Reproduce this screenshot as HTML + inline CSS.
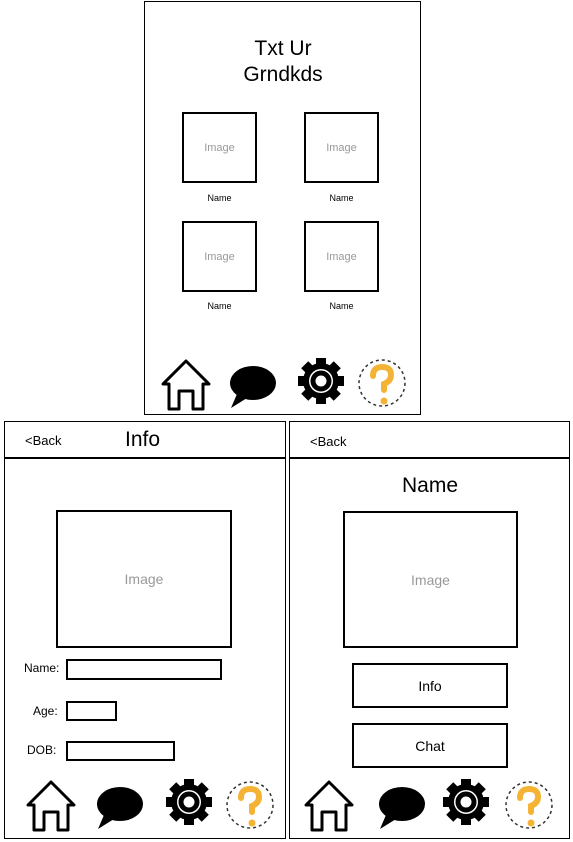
<!DOCTYPE html>
<html><head><style>
body{margin:0;width:573px;height:842px;background:#fff;position:relative;font-family:"Liberation Sans",sans-serif;overflow:hidden}
.b{position:absolute;border:2px solid #000;box-sizing:border-box}
.t{position:absolute;white-space:nowrap}
.img{display:flex;align-items:center;justify-content:center;color:#999;font-size:11px}
</style></head><body>
<div class="b" style="left:144px;top:1px;width:277px;height:414px;border-width:1.5px"></div>
<div class="t" style="left:183px;top:36px;width:200px;text-align:center;font-size:21px;line-height:26px">Txt Ur<br>Grndkds</div>
<div class="b img" style="left:182px;top:112px;width:75px;height:71px">Image</div>
<div class="b img" style="left:304px;top:112px;width:75px;height:71px">Image</div>
<div class="b img" style="left:182px;top:221px;width:75px;height:71px">Image</div>
<div class="b img" style="left:304px;top:221px;width:75px;height:71px">Image</div>
<div class="t" style="left:182px;top:193px;width:75px;text-align:center;font-size:9px">Name</div>
<div class="t" style="left:304px;top:193px;width:75px;text-align:center;font-size:9px">Name</div>
<div class="t" style="left:182px;top:301px;width:75px;text-align:center;font-size:9px">Name</div>
<div class="t" style="left:304px;top:301px;width:75px;text-align:center;font-size:9px">Name</div>

<div class="b" style="left:4px;top:421px;width:282px;height:418px;border-width:1.5px"></div>
<div class="b" style="left:4px;top:457px;width:282px;height:0;border-width:1px 0 1px 0"></div>
<div class="t" style="left:25px;top:433px;font-size:13px">&lt;Back</div>
<div class="t" style="left:125px;top:428px;font-size:21px">Info</div>
<div class="b img" style="left:56px;top:510px;width:176px;height:138px;font-size:14px">Image</div>
<div class="t" style="left:24px;top:661px;font-size:12px">Name:</div>
<div class="b" style="left:66px;top:659px;width:156px;height:21px"></div>
<div class="t" style="left:33px;top:704px;font-size:12px">Age:</div>
<div class="b" style="left:66px;top:701px;width:51px;height:20px"></div>
<div class="t" style="left:27px;top:743px;font-size:12px">DOB:</div>
<div class="b" style="left:66px;top:741px;width:109px;height:20px"></div>

<div class="b" style="left:289px;top:421px;width:281px;height:418px;border-width:1.5px"></div>
<div class="b" style="left:289px;top:457px;width:281px;height:0;border-width:1px 0 1px 0"></div>
<div class="t" style="left:310px;top:434px;font-size:13px">&lt;Back</div>
<div class="t" style="left:340px;top:474px;width:180px;text-align:center;font-size:21px">Name</div>
<div class="b img" style="left:343px;top:511px;width:175px;height:137px;font-size:14px">Image</div>
<div class="b" style="left:352px;top:663px;width:156px;height:45px;display:flex;align-items:center;justify-content:center;font-size:14px">Info</div>
<div class="b" style="left:352px;top:723px;width:156px;height:45px;display:flex;align-items:center;justify-content:center;font-size:14px">Chat</div>

<svg width="573" height="842" style="position:absolute;left:0;top:0">
<defs>
<g id="house"><path d="M3,25 L26,2 L49,25 L43,25 L43,50 L33,50 L33,32 L19,32 L19,50 L9,50 L9,25 Z" fill="#fff" stroke="#000" stroke-width="3" stroke-linejoin="round"/></g>
<g id="bub"><ellipse cx="24" cy="19" rx="23" ry="17" fill="#000"/><polygon points="8,30 2,44 18,34" fill="#000"/></g>
<g id="gear"><g fill="#000" transform="translate(23,22)">
<rect x="-5" y="-23" width="10" height="46"/><rect x="-23" y="-5" width="46" height="10"/>
<rect x="-5" y="-23" width="10" height="46" transform="rotate(45)"/><rect x="-5" y="-23" width="10" height="46" transform="rotate(-45)"/>
<circle r="18"/><circle r="12" fill="#fff"/><circle r="8" fill="none" stroke="#000" stroke-width="5"/></g></g>
<g id="q"><circle cx="24" cy="25" r="23" fill="none" stroke="#333" stroke-width="1.5" stroke-dasharray="3,3"/>
<path d="M15,18 Q15,9 24,9 Q33,9 33,17 Q33,23 26,26 L26,32" fill="none" stroke="#f5b335" stroke-width="6" stroke-linecap="round"/>
<circle cx="26" cy="43" r="3.5" fill="#f5b335"/></g>
</defs>
<use href="#house" x="160" y="359"/><use href="#bub" x="229" y="364"/><use href="#gear" x="298" y="359"/><use href="#q" x="358" y="358"/>
<use href="#house" x="25" y="780"/><use href="#bub" x="96" y="785"/><use href="#gear" x="166" y="780"/><use href="#q" x="226" y="780"/>
<use href="#house" x="303" y="780"/><use href="#bub" x="378" y="785"/><use href="#gear" x="443" y="780"/><use href="#q" x="505" y="780"/>
</svg>
</body></html>
